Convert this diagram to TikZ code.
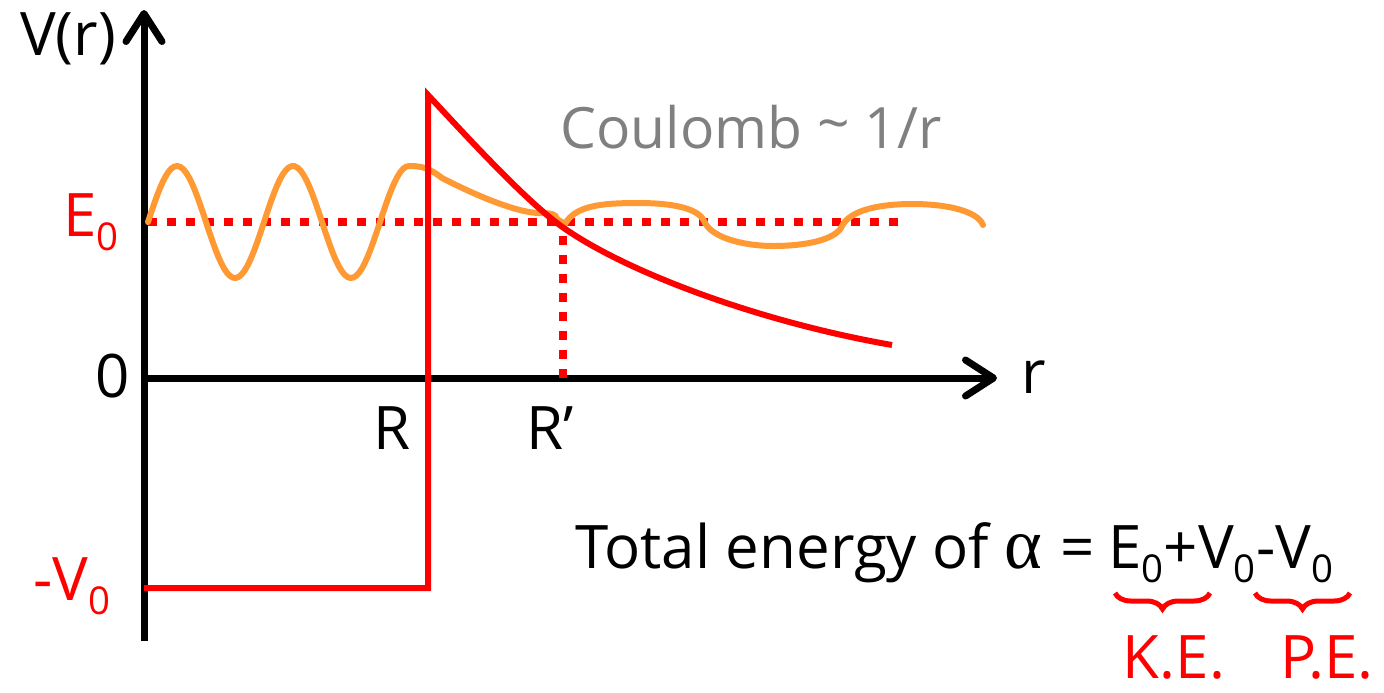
\documentclass[tikz,border=0pt]{standalone}
\usepackage{fontspec}
\setmainfont{Open Sans}
\newfontfamily\grk{Liberation Serif}
\usetikzlibrary{arrows.meta,decorations.pathreplacing,calc}
\definecolor{wavecol}{RGB}{255,153,51}
\definecolor{potred}{RGB}{255,0,0}
\definecolor{coulgray}{RGB}{128,128,128}
\newcommand\subz{\raisebox{-0.45ex}{\scalebox{0.64}{0}}}
\begin{document}
\begin{tikzpicture}[x=0.5pt,y=-0.5pt,
  axis/.style={line width=3.5pt, black, -{Straight Barb[length=14pt,width=18pt,line cap=round,line join=round]}},
  pot/.style={line width=3pt, potred},
  dotline/.style={line width=4pt, potred, dash pattern=on 4.5pt off 5pt},
  wave/.style={line width=3pt, wavecol, line cap=round},
  lbl/.style={font=\fontsize{30}{34}\selectfont, inner sep=0pt},
  brc/.style={line width=2.5pt, potred, decorate, decoration={brace, amplitude=8pt}}]
\useasboundingbox (0,0) rectangle (1384,692);
% axes
\coordinate (O) at (144,378);
\coordinate (ytop) at (144,10);
\coordinate (ybot) at (144,641);
\coordinate (xend) at (997,378);
\draw[axis] (ybot) -- (ytop);
\draw[axis] (O) -- (xend);
% E0 level and R' marker
\coordinate (e0a) at (148,222);
\coordinate (e0b) at (902,222);
\coordinate (rpa) at (563,378);
\coordinate (rpb) at (563,222);
\draw[dotline] (e0a) -- (e0b);
\draw[dotline] (rpa) -- (rpb);
% wave function
\draw[wave] plot[domain=148:409, samples=90] (\x, {222-56*sin((\x-148)/116*360)})
  .. controls (420,166) and (428,167) .. (442,178)
  .. controls (475,195) and (515,212) .. (538,213)
  .. controls (552,213) and (556,214) .. (557,219)
  -- (565,224)
  .. controls (575,206) and (600,203) .. (638,203)
  .. controls (672,203) and (698,208) .. (704,221)
  .. controls (712,240) and (750,246) .. (773,246)
  .. controls (805,246) and (836,240) .. (842,226)
  .. controls (850,210) and (880,204) .. (912,204)
  .. controls (950,204) and (978,212) .. (983,225);
% potential
\draw[pot] (144,588) -- (428,588) -- (428,95)
  .. controls (470,140) and (525,200) .. (561,226)
  .. controls (625,272) and (760,322) .. (892,345);
% labels
\node[lbl, anchor=base] (vr) at (68,55) {V(r)};
\node[lbl, anchor=base] (zero) at (113,397) {0};
\node[lbl, anchor=base west, text=potred] (e0) at (63,236) {E\subz};
\node[lbl, anchor=base west, text=potred] (mv0) at (33,600) {-V\subz};
\node[lbl, anchor=base] (rlab) at (392,449) {R};
\node[lbl, anchor=base] (rplab) at (550,449) {R’};
\node[lbl, anchor=base] (rax) at (1034,393) {r};
\node[lbl, font=\fontsize{28.5}{33}\selectfont, anchor=base, text=coulgray] (coul) at (751,148) {Coulomb \raisebox{0.15ex}{\textasciitilde} 1/r};
% total energy
\node[lbl, anchor=base west] (te) at (575,568) {Total energy of};
\node[lbl, anchor=base west] (al) at (1004,568) {\grk\fontsize{36}{40}\selectfont α};
\node[lbl, anchor=base west] (eq) at (1060,568) {=};
\node[lbl, anchor=base west] (ke) at (1108,568) {E\subz+V\subz};
\node[lbl, anchor=base west] (pe) at (1256,568) {-V\subz};
\coordinate (b1r) at (1210,593);
\coordinate (b1l) at (1115,593);
\coordinate (b2r) at (1350,593);
\coordinate (b2l) at (1255,593);
\draw[brc] (b1r) -- (b1l);
\draw[brc] (b2r) -- (b2l);
\node[lbl, anchor=base, text=potred] (kelab) at (1174,678) {K.E.};
\node[lbl, anchor=base, text=potred] (pelab) at (1327,678) {P.E.};
\end{tikzpicture}
\end{document}
